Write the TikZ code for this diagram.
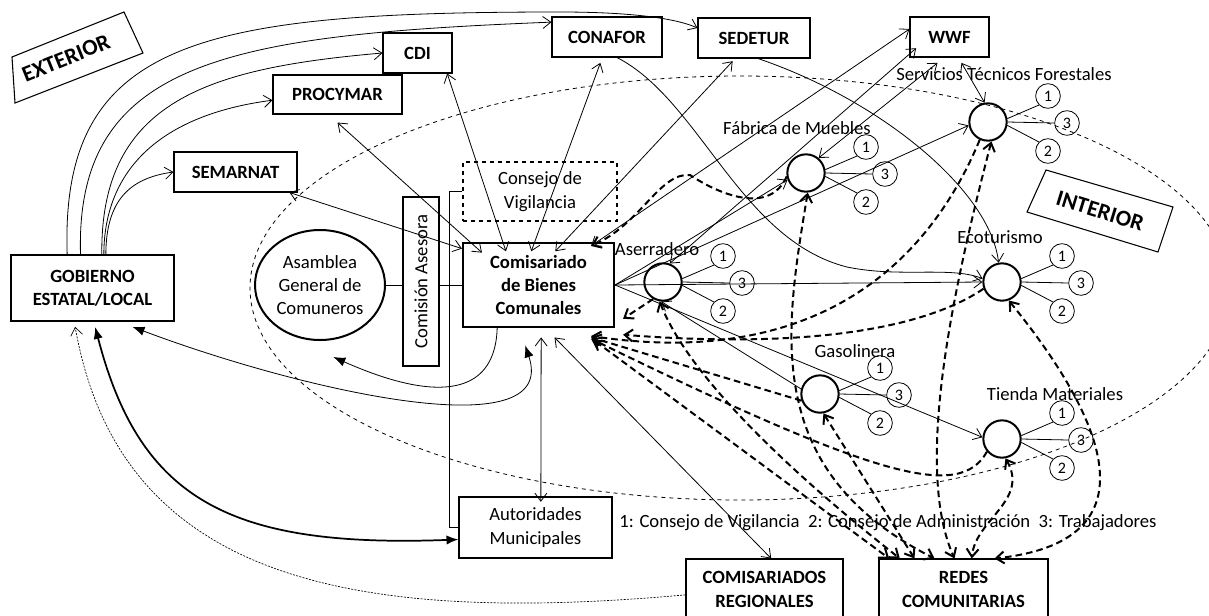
\documentclass[tikz,border=0pt]{standalone}
\usepackage{fontspec}
\setmainfont{Carlito}
\usepackage{graphicx}
\usetikzlibrary{arrows.meta,shapes.geometric}

\tikzset{
  box/.style={draw, line width=0.8pt, align=center, inner sep=1pt},
  bbox/.style={box, font=\bfseries\fontsize{14}{17.5}\selectfont},
  act/.style={circle, draw, line width=1.5pt, minimum size=28pt, inner sep=0pt},
  num/.style={circle, draw, line width=0.6pt, minimum size=18.5pt, inner sep=0pt, font=\fontsize{12}{14}\selectfont},
  lab/.style={inner sep=0pt},
  zone/.style={font=\bfseries\fontsize{17}{20}\selectfont},
  lnk/.style={line width=0.6pt},
  dlnk/.style={line width=1.5pt, dash pattern=on 5pt off 3pt},
  solidhead/.style={-{Latex[length=9pt,width=7pt]}},
  solidboth/.style={{Latex[length=9pt,width=7pt]}-{Latex[length=9pt,width=7pt]}}
}

\begin{document}
\begin{tikzpicture}[x=0.75pt, y=-0.75pt, font=\fontsize{14}{17.5}\selectfont,
  >={Straight Barb[length=6pt,width=9pt]}]
\useasboundingbox (0,0) rectangle (1209,615);
\clip (0,0) rectangle (1209,615);

% interior zone
\draw[dashed, line width=0.6pt] (740,288) ellipse [x radius=490, y radius=212];

% zone labels
\draw[line width=0.8pt] (12,57) -- (124,12) -- (143,53) -- (15,103) -- cycle;
\node[zone, rotate=22] (ext) at (66,58) {EXTERIOR};
\draw[line width=0.8pt] (1046,170) -- (1173,207) -- (1158,252) -- (1027,212) -- cycle;
\node[zone, rotate=-17] (int) at (1100,211) {INTERIOR};

% outside agencies
\node[bbox, minimum width=51.75pt, minimum height=30pt] (cdi) at (417.5,53) {CDI};
\node[bbox, minimum width=96.75pt, minimum height=29.25pt] (procymar) at (337.5,94.5) {PROCYMAR};
\node[bbox, minimum width=92.25pt, minimum height=30pt] (semarnat) at (235.5,172) {SEMARNAT};
\node[bbox, minimum width=82.5pt, minimum height=30pt] (conafor) at (607,37) {CONAFOR};
\node[bbox, minimum width=84pt, minimum height=30pt] (sedetur) at (754,38) {SEDETUR};
\node[bbox, minimum width=59.25pt, minimum height=30pt] (wwf) at (949.5,37) {WWF};
\node[bbox, minimum width=122.25pt, minimum height=49.5pt] (gob) at (92.5,288) {GOBIERNO\\ESTATAL/LOCAL};

% community bodies
\node[ellipse, draw, line width=1.5pt, minimum width=97.5pt, minimum height=82.5pt, inner sep=0pt, align=center] (asm) at (320,285) {Asamblea\\General de\\Comuneros};
\node[box, minimum width=27pt, minimum height=126.75pt] (cmsn) at (421,281.5) {\rotatebox{90}{Comisión Asesora}};
\node[box, dashed, minimum width=115.5pt, minimum height=44.25pt] (cons) at (540,191.5) {Consejo de\\Vigilancia};
\node[bbox, line width=1.6pt, minimum width=113.25pt, minimum height=63pt] (com) at (538.5,285) {Comisariado\\de Bienes\\Comunales};
\node[box, minimum width=114.75pt, minimum height=45.75pt] (aut) at (535.5,527.5) {Autoridades\\Municipales};
\node[bbox, minimum width=117.75pt, minimum height=45.75pt] (comreg) at (764.5,589.5) {COMISARIADOS\\REGIONALES};
\node[bbox, minimum width=126.75pt, minimum height=45.75pt] (redes) at (963.5,589.5) {REDES\\COMUNITARIAS};
\node[lab] (leg) at (888,523) {1: Consejo de Vigilancia\ \ 2: Consejo de Administración\ \ 3: Trabajadores};

% activities with their three bodies
\foreach \n/\x/\y in {ase/663/282, fab/806/173, stf/988/122, eco/1002/282, gas/820/394, tie/1002/439}{
  \node[act] (\n) at (\x,\y) {};
  \node[num] (\n1) at (\x+60,\y-26) {1};
  \node[num] (\n3) at (\x+79,\y+1) {3};
  \node[num] (\n2) at (\x+60,\y+29) {2};
  \draw[lnk] (\n.10) -- (\n1.south west);
  \draw[lnk] (\n.east) -- (\n3.west);
  \draw[lnk] (\n.-10) -- (\n2.north west);
}
\node[lab] (ase-t) at (657,249) {Aserradero};
\node[lab] (fab-t) at (797,128) {Fábrica de Muebles};
\node[lab] (stf-t) at (1004,74) {Servicios Técnicos Forestales};
\node[lab] (eco-t) at (1000,237) {Ecoturismo};
\node[lab] (gas-t) at (855,351) {Gasolinera};
\node[lab] (tie-t) at (1055,394) {Tienda Materiales};

% government to the agencies
\draw[lnk,->] ([xshift=-19pt]gob.north) .. controls (60,40) and (200,12) .. (560,12) .. controls (640,12) and (680,20) .. (sedetur.170);
\draw[lnk,->] ([xshift=-9pt]gob.north) .. controls (75,60) and (230,35) .. (conafor.165);
\draw[lnk,->] ([xshift=7pt]gob.north) .. controls (100,100) and (210,68) .. (cdi.west);
\draw[lnk,->] ([xshift=8.5pt]gob.north) .. controls (104,170) and (160,115) .. (procymar.185);
\draw[lnk,->] ([xshift=10pt]gob.north) .. controls (106,200) and (130,178) .. (semarnat.west);

% agencies and the Comisariado
\draw[lnk,<->] ([xshift=-6pt]semarnat.south east) -- ([yshift=-5pt]com.north west);
\draw[lnk,<->] ([yshift=-6pt]procymar.south) -- ([xshift=15pt,yshift=-8pt]com.north west);
\draw[lnk,<->] ([xshift=-4pt]cdi.south east) -- ([xshift=33pt,yshift=-7pt]com.north west);
\draw[lnk,<->] ([xshift=-5pt,yshift=-4pt]conafor.south) -- ([xshift=52pt,yshift=-7pt]com.north west);
\draw[lnk,<->] ([xshift=-16pt,yshift=-2pt]sedetur.south) -- ([xshift=70pt,yshift=-7pt]com.north west);
\draw[lnk,<->] ([yshift=6pt]wwf.west) -- ([xshift=-18pt,yshift=-3pt]com.north east);

% WWF and the activities
\draw[lnk,<->] ([xshift=5pt,yshift=7pt]wwf.south west) -- (ase.70);
\draw[lnk,<->] ([xshift=-9pt,yshift=-4pt]wwf.south) -- (fab.50);
\draw[lnk,<->] ([xshift=9pt,yshift=-4pt]wwf.south) -- (stf.100);

% Comisariado to the activities
\draw[lnk,->] (com.east) -- (fab.200);
\draw[lnk,->] (com.east) -- (stf.190);
\draw[lnk,->] (com.east) -- (eco.west);
\draw[lnk,->] (com.east) -- (tie.175);
\draw[lnk,->] (gas.165) -- (ase.-95);
\draw[lnk,->] ([xshift=7.5pt]conafor.south) .. controls (700,100) and (740,240) .. (847,267) .. controls (900,278) and (950,266) .. (eco.170);
\draw[lnk,->] ([xshift=3pt]sedetur.south) .. controls (880,100) and (990,190) .. (eco.100);

% Comisariado downwards
\draw[lnk,<->] ([xshift=2pt,yshift=-7pt]com.south) -- ([xshift=4pt,yshift=-4pt]aut.north);
\draw[lnk,<->] ([xshift=12pt,yshift=-7pt]com.south) -- ([xshift=5pt]comreg.north);
\draw[lnk,solidhead] ([xshift=-31pt]com.south) .. controls (495,400) and (430,400) .. ([xshift=10pt,yshift=-12pt]asm.south);
\draw[lnk,solidboth] ([xshift=30pt,yshift=-4pt]gob.south) .. controls (300,390) and (560,450) .. ([xshift=-10pt,yshift=-13pt]com.south);
\draw[line width=1.3pt,solidboth] ([xshift=2pt,yshift=-4pt]gob.south) .. controls (140,500) and (230,548) .. ([yshift=-9pt]aut.west);
\draw[line width=0.5pt, dash pattern=on 1.5pt off 1pt, ->] ([yshift=-4pt]comreg.west) .. controls (350,625) and (120,580) .. ([xshift=-13pt,yshift=-4pt]gob.south);

% organisation links
\draw[lnk] (cons.west) -- ++(-13,0) |- (aut.west);
\draw[lnk] (asm.east) -- (asm.east -| cmsn.west);
\draw[lnk] (cmsn.east |- com.west) -- (com.west);

% dashed links back to the Comisariado
\draw[dlnk,->] (fab.190) .. controls (770,215) and (720,195) .. (690,175) .. controls (660,172) and (640,225) .. ([xshift=-18pt,yshift=-3pt]com.north east);
\draw[dlnk,->] (ase.-120) -- ([xshift=6pt,yshift=7pt]com.south east);
\draw[dlnk,->] (eco.200) .. controls (930,325) and (820,350) .. ([xshift=6pt,yshift=-5pt]com.south east);
\draw[dlnk,->] (stf.-115) .. controls (930,260) and (820,370) .. ([xshift=-18pt,yshift=-6pt]com.south east);
\draw[dlnk,->] (gas.200) -- ([xshift=-18pt,yshift=-7pt]com.south east);
\draw[dlnk,->] (tie.220) .. controls (960,500) and (880,480) .. ([xshift=-18pt,yshift=-8pt]com.south east);

% dashed links to the community networks
\draw[dlnk,<->] ([xshift=-16pt,yshift=-9pt]com.south east) -- ([xshift=8pt]redes.north west);
\draw[dlnk,<->] (ase.-100) .. controls (690,380) and (800,480) .. ([xshift=16pt]redes.north west);
\draw[dlnk,<->] (gas.-80) -- ([xshift=27pt]redes.north west);
\draw[dlnk,<->] (fab.-85) .. controls (785,330) and (760,470) .. ([xshift=42pt]redes.north west);
\draw[dlnk,<->] (stf.-80) .. controls (950,300) and (915,470) .. ([xshift=57pt]redes.north west);
\draw[dlnk,<->] (tie.-80) .. controls (1030,500) and (975,520) .. ([xshift=70pt]redes.north west);
\draw[dlnk,<->] (eco.-70) .. controls (1090,400) and (1170,540) .. ([xshift=87pt]redes.north west);
\end{tikzpicture}
\end{document}
